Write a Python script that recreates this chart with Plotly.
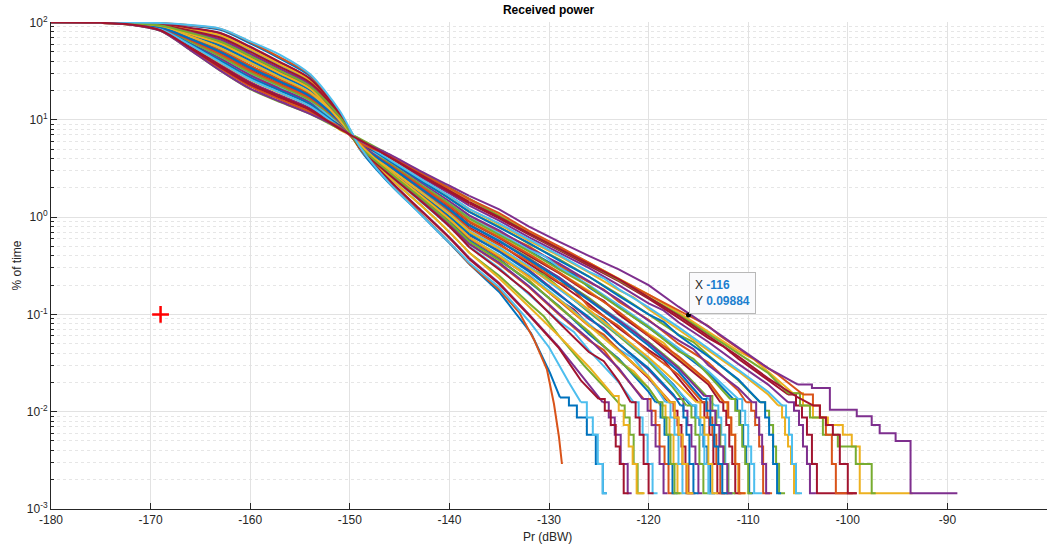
import math
import plotly.graph_objects as go

# Power levels (dBW) at which the upper part of every curve is sampled
HEAD_X = [-180, -175, -172, -169, -166, -163, -160, -157, -154, -151, -149, -146, -143, -140, -138]

# % of time above each level in HEAD_X, one row per curve
HEAD_Y = [
    [100, 99.6, 97.8, 90.6, 71.5, 54.3, 38.5, 27.1, 19.1, 9.5, 5.9, 3.15, 1.85, 1.07, 0.71],
    [100, 99.3, 96.4, 86.0, 61.0, 42.5, 29.2, 21.1, 15.0, 9.1, 5.4, 3.6, 2.28, 1.43, 1.03],
    [100, 99.7, 98.6, 93.5, 78.8, 64.2, 45.8, 31.9, 22.3, 10.9, 5.1, 2.85, 1.6, 0.88, 0.56],
    [100, 99.2, 95.8, 84.3, 56.8, 37.0, 24.5, 17.9, 13.2, 8.2, 6.3, 4.0, 2.62, 1.75, 1.31],
    [100, 99.85, 99.2, 95.8, 85.2, 73.8, 53.0, 37.0, 25.2, 11.5, 5.5, 2.55, 1.36, 0.7, 0.43],
    [100, 99.45, 97.2, 89.0, 67.4, 49.4, 33.9, 24.4, 17.4, 9.9, 5.3, 3.35, 2.02, 1.22, 0.83],
    [100, 99.65, 98.3, 92.3, 76.0, 61.0, 42.8, 30.1, 21.0, 9.7, 5.75, 2.97, 1.7, 0.95, 0.61],
    [100, 100, 99.9, 98.2, 92.3, 84.0, 61.0, 42.4, 28.2, 11.9, 5.0, 2.2, 1.1, 0.54, 0.33],
    [100, 100, 100, 98.6, 93.5, 86.0, 63.0, 43.7, 29.0, 11.2, 5.4, 2.25, 1.12, 0.55, 0.33],
    [100, 99.4, 97.1, 88.4, 65.0, 46.6, 31.8, 23.0, 16.8, 8.9, 5.95, 3.43, 2.1, 1.3, 0.92],
    [100, 99.6, 97.9, 91.2, 73.0, 57.0, 40.1, 28.3, 20.2, 10.3, 5.3, 3.08, 1.78, 1.0, 0.65],
    [100, 99.25, 96.2, 85.8, 60.2, 40.8, 27.3, 20.0, 14.5, 8.4, 6.1, 3.8, 2.42, 1.56, 1.13],
    [100, 99.8, 99.0, 95.2, 83.0, 70.8, 50.8, 35.3, 24.0, 10.3, 5.6, 2.7, 1.48, 0.8, 0.5],
    [100, 99.5, 97.5, 89.6, 69.0, 51.2, 35.5, 25.5, 18.2, 9.9, 5.35, 3.26, 1.95, 1.15, 0.78],
    [100, 99.35, 96.8, 87.4, 63.8, 45.0, 30.5, 22.1, 15.9, 9.4, 5.5, 3.55, 2.2, 1.37, 0.97],
    [100, 99.75, 98.8, 94.1, 80.4, 67.0, 47.8, 33.4, 23.0, 10.9, 5.2, 2.8, 1.56, 0.84, 0.53],
    [100, 99.2, 96.0, 85.0, 58.0, 38.5, 25.7, 18.8, 13.9, 8.9, 5.6, 3.92, 2.5, 1.64, 1.2],
    [100, 99.9, 99.5, 96.5, 87.4, 77.5, 55.6, 38.6, 26.2, 10.7, 5.5, 2.4, 1.22, 0.62, 0.38],
    [100, 99.55, 97.7, 90.8, 71.8, 54.8, 38.8, 27.4, 19.3, 10.1, 5.25, 3.12, 1.84, 1.06, 0.7],
    [100, 99.65, 98.2, 92.2, 75.5, 60.5, 42.6, 30.0, 21.1, 10.5, 5.7, 2.98, 1.71, 0.96, 0.62],
    [100, 99.4, 97.0, 88.0, 65.8, 47.5, 32.4, 23.4, 16.5, 9.0, 5.9, 3.44, 2.1, 1.28, 0.89],
    [100, 99.7, 98.5, 93.0, 78.0, 63.5, 44.9, 31.5, 21.9, 9.9, 5.65, 2.89, 1.64, 0.9, 0.58],
    [100, 99.5, 97.4, 89.8, 69.9, 52.2, 36.2, 25.9, 18.4, 9.3, 5.8, 3.23, 1.93, 1.13, 0.76],
    [100, 99.85, 99.3, 95.9, 85.5, 74.0, 53.2, 37.2, 25.4, 11.3, 5.05, 2.55, 1.36, 0.7, 0.43],
    [100, 99.3, 96.5, 86.8, 62.2, 43.0, 28.6, 20.7, 15.3, 9.3, 5.5, 3.66, 2.3, 1.45, 1.04],
    [100, 99.45, 97.3, 89.1, 67.6, 49.6, 34.1, 24.6, 17.5, 9.1, 5.9, 3.36, 2.03, 1.21, 0.84],
    [100, 99.35, 96.7, 87.2, 63.5, 44.8, 30.4, 22.0, 15.8, 8.8, 6.0, 3.56, 2.21, 1.38, 0.98],
    [100, 99.12, 95.6, 83.8, 55.8, 36.0, 23.8, 17.4, 12.8, 8.7, 5.6, 4.1, 2.7, 1.82, 1.38],
    [100, 99.6, 98.0, 91.6, 74.0, 58.0, 40.8, 28.8, 20.0, 9.6, 5.8, 3.05, 1.76, 1.01, 0.67],
    [100, 99.65, 98.25, 92.4, 75.8, 61.0, 43.0, 30.2, 21.0, 10.4, 5.2, 2.97, 1.7, 0.95, 0.61],
    [100, 99.07, 95.3, 83.0, 54.0, 34.2, 22.4, 16.5, 12.3, 7.9, 6.3, 4.22, 2.82, 1.93, 1.5],
    [100, 99.75, 98.7, 94.0, 80.0, 66.8, 47.6, 33.3, 23.1, 10.1, 5.6, 2.8, 1.56, 0.84, 0.53],
    [100, 99.35, 96.75, 87.5, 63.6, 44.9, 30.6, 22.2, 15.9, 9.35, 5.45, 3.55, 2.2, 1.37, 0.97],
    [100, 99.55, 97.8, 90.6, 71.6, 54.4, 38.5, 27.2, 19.2, 9.5, 5.75, 3.14, 1.86, 1.08, 0.72],
    [100, 99.8, 99.0, 95.0, 82.5, 70.0, 50.1, 34.9, 24.2, 11.1, 5.2, 2.7, 1.5, 0.8, 0.49],
    [100, 99.25, 96.25, 85.9, 60.0, 40.6, 27.2, 19.9, 14.5, 8.5, 6.0, 3.78, 2.41, 1.55, 1.13],
    [100, 99.4, 97.0, 88.3, 65.4, 47.0, 32.0, 23.1, 16.7, 9.5, 5.5, 3.46, 2.12, 1.3, 0.9],
    [100, 99.55, 97.75, 90.7, 71.7, 54.5, 38.6, 27.1, 19.1, 10.0, 5.4, 3.15, 1.85, 1.07, 0.71],
    [100, 99.45, 97.25, 89.0, 67.5, 49.5, 34.0, 24.5, 17.4, 9.6, 5.7, 3.35, 2.02, 1.21, 0.83],
    [100, 99.0, 95.0, 82.0, 52.0, 32.0, 20.7, 15.2, 11.5, 8.0, 6.4, 4.35, 2.95, 2.0, 1.55],
    [100, 99.2, 96.0, 85.2, 58.6, 39.0, 26.1, 19.0, 13.8, 8.3, 6.05, 3.9, 2.52, 1.65, 1.21],
    [100, 99.9, 99.5, 96.8, 88.0, 78.0, 56.4, 39.2, 26.5, 11.6, 5.15, 2.38, 1.2, 0.61, 0.37],
    [100, 99.45, 97.2, 89.2, 67.8, 49.8, 34.3, 24.7, 17.5, 9.7, 5.45, 3.34, 2.0, 1.2, 0.82],
    [100, 99.05, 95.25, 82.8, 53.5, 33.6, 22.0, 16.1, 12.0, 8.4, 5.8, 4.27, 2.87, 1.98, 1.53],
    [100, 99.65, 98.3, 92.2, 75.9, 60.8, 43.0, 30.0, 21.0, 9.8, 5.6, 2.96, 1.7, 0.95, 0.62],
    [100, 99.0, 95.0, 82.0, 52.0, 32.0, 20.9, 15.4, 11.5, 8.2, 6.1, 4.4, 3.0, 2.1, 1.65],
    [100, 99.7, 98.5, 93.3, 78.4, 63.8, 45.4, 31.8, 22.1, 10.7, 5.3, 2.87, 1.62, 0.88, 0.56],
    [100, 100, 100, 98.8, 94.0, 86.5, 64.0, 46.5, 29.5, 12.3, 5.3, 2.22, 1.1, 0.55, 0.34],
    [100, 99.1, 95.5, 83.3, 54.6, 34.8, 23.0, 16.9, 12.6, 8.05, 6.2, 4.15, 2.76, 1.87, 1.43],
]

# Continuation of each curve below -138 dBW: (Pr, % of time)
MID = [
    [(-135, 0.47), (-132, 0.31), (-129, 0.185), (-126, 0.108), (-124.5, 0.088), (-123, 0.061), (-120, 0.034), (-117.5, 0.019), (-115.8, 0.0116)],
    [(-135, 0.70), (-132, 0.50), (-129, 0.32), (-126, 0.215), (-124.5, 0.18), (-123, 0.135), (-120, 0.088), (-117, 0.05), (-114, 0.032), (-111, 0.0165), (-110.2, 0.0125)],
    [(-135, 0.36), (-132, 0.225), (-129, 0.118), (-126, 0.067), (-123, 0.033), (-121.5, 0.026), (-120, 0.0175), (-118.8, 0.0116)],
    [(-135, 0.92), (-132, 0.62), (-129, 0.43), (-126, 0.3), (-123, 0.2), (-120, 0.13), (-118.5, 0.11), (-117, 0.083), (-114, 0.052), (-111, 0.031), (-108, 0.019), (-106, 0.0125)],
    [(-135, 0.25), (-132, 0.13), (-130.5, 0.095), (-129, 0.06), (-126.5, 0.03), (-124, 0.016), (-122.8, 0.0116)],
    [(-135, 0.58), (-132, 0.37), (-129, 0.24), (-126, 0.145), (-123, 0.088), (-121.5, 0.07), (-120, 0.05), (-117, 0.028), (-114.5, 0.0155), (-113.4, 0.0116)],
    [(-135, 0.40), (-132, 0.25), (-129, 0.14), (-127.5, 0.112), (-126, 0.078), (-123, 0.043), (-120, 0.022), (-118, 0.0125)],
    [(-135, 0.17), (-131.8, 0.064), (-129.9, 0.025), (-128.9, 0.014)],
    [(-135, 0.18), (-133, 0.105), (-131.5, 0.055), (-130.2, 0.027), (-129.5, 0.012), (-129, 0.0055), (-128.7, 0.0029)],
    [(-135, 0.63), (-132, 0.42), (-129, 0.27), (-126, 0.175), (-123, 0.104), (-120, 0.063), (-118.5, 0.051), (-117, 0.035), (-114, 0.02), (-112.5, 0.0125)],
    [(-135, 0.45), (-132, 0.285), (-129, 0.162), (-126, 0.09), (-124.5, 0.072), (-123, 0.05), (-120, 0.027), (-117.2, 0.0135)],
    [(-135, 0.8), (-132, 0.53), (-129, 0.37), (-126, 0.245), (-123, 0.16), (-120, 0.1), (-117, 0.062), (-115.5, 0.052), (-114, 0.038), (-111, 0.021), (-108.8, 0.0125)],
    [(-135, 0.3), (-132, 0.16), (-129, 0.085), (-127.5, 0.066), (-126, 0.043), (-123, 0.02), (-121.5, 0.0125)],
    [(-135, 0.53), (-132, 0.33), (-129, 0.21), (-126, 0.128), (-123, 0.072), (-120, 0.043), (-118.5, 0.034), (-117, 0.022), (-115, 0.0125)],
    [(-135, 0.67), (-132, 0.45), (-129, 0.3), (-127.5, 0.255), (-126, 0.19), (-123, 0.12), (-120, 0.073), (-117, 0.043), (-114, 0.025), (-111.5, 0.0135)],
    [(-135, 0.33), (-132, 0.19), (-129, 0.1), (-126, 0.054), (-124.5, 0.043), (-123, 0.027), (-120.5, 0.0135)],
    [(-135, 0.84), (-132, 0.57), (-129, 0.4), (-126, 0.27), (-123, 0.178), (-121.5, 0.15), (-120, 0.113), (-117, 0.07), (-114, 0.043), (-111, 0.026), (-108, 0.015), (-107, 0.0116)],
    [(-135, 0.21), (-132, 0.1), (-129, 0.046), (-126.5, 0.022), (-124.6, 0.0125)],
    [(-135, 0.48), (-132, 0.3), (-130.5, 0.255), (-129, 0.19), (-126, 0.105), (-123, 0.06), (-120, 0.033), (-117.6, 0.018), (-116.2, 0.0116)],
    [(-135, 0.41), (-132, 0.255), (-129, 0.145), (-126, 0.08), (-123, 0.044), (-121.5, 0.035), (-120, 0.023), (-118.3, 0.0125)],
    [(-135, 0.61), (-132, 0.4), (-129, 0.265), (-126, 0.165), (-124.5, 0.138), (-123, 0.1), (-120, 0.06), (-117, 0.034), (-114, 0.019), (-112.8, 0.0125)],
    [(-135, 0.37), (-132, 0.215), (-129, 0.122), (-126, 0.063), (-123, 0.035), (-120, 0.016), (-119.3, 0.0125)],
    [(-135, 0.52), (-132, 0.35), (-129, 0.215), (-127.5, 0.18), (-126, 0.12), (-123, 0.076), (-120, 0.041), (-117, 0.024), (-114.6, 0.0125)],
    [(-135, 0.235), (-132, 0.12), (-129, 0.06), (-126, 0.029), (-123.5, 0.0145)],
    [(-135, 0.73), (-132, 0.48), (-129, 0.335), (-126, 0.22), (-123, 0.142), (-120, 0.086), (-117, 0.054), (-115.5, 0.044), (-114, 0.03), (-111, 0.0175), (-109.6, 0.0125)],
    [(-135, 0.57), (-132, 0.38), (-129, 0.235), (-126, 0.148), (-123, 0.086), (-120, 0.052), (-117, 0.029), (-114.2, 0.0145)],
    [(-135, 0.68), (-132, 0.46), (-130.5, 0.4), (-129, 0.305), (-126, 0.2), (-123, 0.125), (-120, 0.076), (-117, 0.045), (-114, 0.026), (-111, 0.0135)],
    [(-135, 0.97), (-132, 0.66), (-129, 0.46), (-126, 0.32), (-123, 0.22), (-120, 0.145), (-117, 0.092), (-114, 0.057), (-112.5, 0.047), (-111, 0.035), (-108, 0.021), (-106, 0.015)],
    [(-135, 0.44), (-132, 0.275), (-129, 0.158), (-126, 0.094), (-123, 0.05), (-120, 0.028), (-117.5, 0.015), (-116.8, 0.0116)],
    [(-135, 0.39), (-132, 0.245), (-129, 0.138), (-126, 0.076), (-124.5, 0.062), (-123, 0.043), (-120, 0.0225), (-117.8, 0.0125)],
    [(-135, 1.05), (-132, 0.7), (-129, 0.48), (-126, 0.34), (-123, 0.235), (-120, 0.16), (-117, 0.105), (-114, 0.066), (-111, 0.042), (-109.5, 0.035), (-108, 0.026), (-105.5, 0.0155)],
    [(-135, 0.34), (-132, 0.195), (-129, 0.102), (-126, 0.056), (-123, 0.028), (-120.6, 0.0135)],
    [(-135, 0.66), (-132, 0.445), (-129, 0.29), (-126, 0.195), (-123, 0.118), (-120, 0.074), (-117, 0.042), (-115.5, 0.035), (-114, 0.024), (-111.8, 0.0135)],
    [(-135, 0.49), (-132, 0.31), (-129, 0.182), (-126, 0.11), (-123, 0.062), (-120, 0.035), (-117.4, 0.018), (-115.6, 0.0116)],
    [(-135, 0.29), (-132, 0.165), (-129, 0.083), (-126, 0.041), (-124.5, 0.033), (-123, 0.0205), (-121.8, 0.0125)],
    [(-135, 0.78), (-132, 0.54), (-129, 0.36), (-126, 0.245), (-123, 0.155), (-120, 0.1), (-118.5, 0.084), (-117, 0.061), (-114, 0.037), (-111, 0.0215), (-108.8, 0.0125)],
    [(-135, 0.62), (-132, 0.415), (-129, 0.27), (-126, 0.17), (-123, 0.106), (-120, 0.061), (-117, 0.037), (-114, 0.0205), (-112.4, 0.0125)],
    [(-135, 0.47), (-132, 0.3), (-129, 0.19), (-126, 0.112), (-123, 0.064), (-120, 0.036), (-117, 0.019), (-115.2, 0.0125)],
    [(-135, 0.56), (-132, 0.37), (-129, 0.24), (-126, 0.142), (-123, 0.087), (-120, 0.051), (-117, 0.028), (-114.4, 0.0145)],
    [(-135, 1.02), (-132, 0.68), (-129, 0.47), (-126, 0.33), (-123, 0.225), (-120, 0.15), (-117, 0.1), (-114, 0.063), (-111, 0.04), (-108, 0.025), (-106, 0.0155)],
    [(-135, 0.86), (-132, 0.59), (-129, 0.41), (-126, 0.275), (-124.5, 0.235), (-123, 0.182), (-120, 0.118), (-117, 0.074), (-114, 0.045), (-111, 0.027), (-108, 0.016), (-106.6, 0.0116)],
    [(-135, 0.205), (-132, 0.098), (-129, 0.045), (-126.8, 0.021), (-125, 0.0135)],
    [(-135, 0.57), (-132, 0.365), (-129, 0.23), (-126, 0.14), (-123, 0.083), (-120, 0.048), (-117, 0.026), (-114.6, 0.0135)],
    [(-135, 1.1), (-132, 0.72), (-129, 0.5), (-126, 0.34), (-123, 0.23), (-120, 0.16), (-118, 0.125), (-116, 0.09884), (-114, 0.076), (-112.8, 0.06), (-110, 0.038), (-107, 0.024), (-104.5, 0.015)],
    [(-135, 0.4), (-132, 0.24), (-129, 0.142), (-126, 0.077), (-123, 0.042), (-120, 0.023), (-117.9, 0.0125)],
    [(-135, 1.2), (-132, 0.8), (-129, 0.56), (-126, 0.4), (-123, 0.29), (-120, 0.2), (-117, 0.12), (-114, 0.075), (-111, 0.046), (-108, 0.028), (-105, 0.019)],
    [(-135, 0.36), (-132, 0.22), (-129, 0.12), (-126, 0.066), (-123, 0.034), (-120, 0.0175), (-119, 0.0125)],
    [(-135, 0.19), (-132, 0.085), (-130, 0.046), (-128, 0.02), (-126.8, 0.0125)],
    [(-135, 1.0), (-132, 0.68), (-129, 0.47), (-126, 0.33), (-123, 0.23), (-120, 0.15), (-117, 0.097), (-114, 0.06), (-111, 0.037), (-108, 0.022), (-105, 0.014), (-103.5, 0.0116)],
]

# Sample-count staircase at the bottom of each curve: (Pr, % of time)
STEPS = [
    [(-115.8, 0.0116), (-115.3, 0.0087), (-114.9, 0.0073), (-114.5, 0.0044), (-114.1, 0.0029), (-113.8, 0.00145), (-113.3, 0.00145)],
    [(-110.2, 0.0125), (-109.7, 0.0102), (-109.3, 0.0073), (-108.9, 0.0044), (-108.5, 0.00145), (-107.6, 0.00145)],
    [(-118.8, 0.0116), (-118.3, 0.0087), (-117.9, 0.0058), (-117.5, 0.0029), (-117.1, 0.00145), (-116.6, 0.00145)],
    [(-106, 0.0125), (-105.4, 0.0102), (-104.9, 0.0073), (-104.5, 0.0044), (-104.1, 0.0029), (-103.8, 0.00145), (-103.2, 0.00145)],
    [(-122.8, 0.0116), (-122.4, 0.0087), (-121.9, 0.0058), (-121.5, 0.0029), (-121.1, 0.00145), (-120.5, 0.00145)],
    [(-113.4, 0.0116), (-113, 0.0087), (-112.7, 0.0058), (-112.3, 0.0029), (-112, 0.00145), (-111.5, 0.00145)],
    [(-118, 0.0125), (-117.5, 0.0102), (-117.1, 0.0073), (-116.7, 0.0044), (-116.3, 0.0029), (-116, 0.00145), (-115.3, 0.00145)],
    [(-128.9, 0.014), (-128, 0.0116), (-127.2, 0.0087), (-126.2, 0.0058), (-125.3, 0.0029), (-124.6, 0.00145), (-124.2, 0.00145)],
    [],
    [(-112.5, 0.0125), (-112.1, 0.0087), (-111.7, 0.0058), (-111.3, 0.0029), (-111, 0.00145), (-110.2, 0.00145)],
    [(-117.2, 0.0135), (-116.5, 0.0102), (-116.1, 0.0073), (-115.7, 0.0044), (-115.3, 0.0029), (-115, 0.00145), (-114.6, 0.00145)],
    [(-108.8, 0.0125), (-108.3, 0.0102), (-107.9, 0.0073), (-107.5, 0.0044), (-107.2, 0.0029), (-106.9, 0.00145), (-106.3, 0.00145)],
    [(-121.5, 0.0125), (-121, 0.0087), (-120.6, 0.0058), (-120.1, 0.0029), (-119.6, 0.00145), (-119.1, 0.00145)],
    [(-115, 0.0125), (-114.4, 0.0087), (-113.9, 0.0058), (-113.5, 0.0029), (-113.1, 0.00145), (-112.3, 0.00145)],
    [(-111.5, 0.0135), (-111.1, 0.0102), (-110.8, 0.0073), (-110.5, 0.0044), (-110.2, 0.0029), (-109.9, 0.00145), (-109.5, 0.00145)],
    [(-120.5, 0.0135), (-119.8, 0.0102), (-119.3, 0.0073), (-118.9, 0.0044), (-118.4, 0.0029), (-118, 0.00145), (-117.4, 0.00145)],
    [(-107, 0.0116), (-106.6, 0.0087), (-106.3, 0.0058), (-106, 0.0044), (-105.7, 0.0029), (-105.4, 0.00145), (-104.8, 0.00145)],
    [(-124.6, 0.0125), (-124, 0.0087), (-123.4, 0.0058), (-122.8, 0.0029), (-122.1, 0.00145), (-121.7, 0.00145)],
    [(-116.2, 0.0116), (-115.7, 0.0087), (-115.3, 0.0058), (-114.9, 0.0029), (-114.5, 0.00145), (-113.8, 0.00145)],
    [(-118.3, 0.0125), (-117.8, 0.0087), (-117.4, 0.0058), (-117, 0.0029), (-116.6, 0.00145), (-116, 0.00145)],
    [(-112.8, 0.0125), (-112.5, 0.0102), (-112.2, 0.0073), (-111.9, 0.0044), (-111.6, 0.0029), (-111.3, 0.00145), (-110.7, 0.00145)],
    [(-119.3, 0.0125), (-118.8, 0.0087), (-118.4, 0.0058), (-118, 0.0029), (-117.6, 0.00145), (-117.1, 0.00145)],
    [(-114.6, 0.0125), (-114.1, 0.0087), (-113.6, 0.0058), (-113.2, 0.0029), (-112.8, 0.00145), (-112, 0.00145)],
    [(-123.5, 0.0145), (-123, 0.0102), (-122.5, 0.0073), (-122, 0.0044), (-121.6, 0.0029), (-121.2, 0.00145), (-120.4, 0.00145)],
    [(-109.6, 0.0125), (-109.2, 0.0087), (-108.9, 0.0058), (-108.6, 0.0029), (-108.2, 0.00145), (-107.8, 0.00145)],
    [(-114.2, 0.0145), (-113.6, 0.0102), (-113.2, 0.0073), (-112.8, 0.0044), (-112.4, 0.0029), (-112, 0.00145), (-111.3, 0.00145)],
    [(-111, 0.0135), (-110.6, 0.0102), (-110.3, 0.0073), (-110, 0.0044), (-109.7, 0.0029), (-109.4, 0.00145), (-108.6, 0.00145)],
    [(-106, 0.015), (-105.2, 0.0116), (-104.6, 0.0087), (-104.1, 0.0058), (-103.6, 0.0029), (-103.1, 0.00145), (-99.1, 0.00145)],
    [(-116.8, 0.0116), (-116.5, 0.0087), (-116.2, 0.0058), (-115.9, 0.0029), (-115.5, 0.00145), (-115, 0.00145)],
    [(-117.8, 0.0125), (-117.4, 0.0087), (-117, 0.0058), (-116.6, 0.0029), (-116.2, 0.00145), (-115.6, 0.00145)],
    [(-105.5, 0.0155), (-104.5, 0.0116), (-103.5, 0.0087), (-102, 0.0073), (-100.5, 0.0058), (-99.6, 0.0044), (-98.8, 0.00145), (-93.5, 0.00145)],
    [(-120.6, 0.0135), (-120.1, 0.0102), (-119.7, 0.0073), (-119.3, 0.0044), (-118.9, 0.0029), (-118.5, 0.00145), (-118.1, 0.00145)],
    [(-111.8, 0.0135), (-111.3, 0.0102), (-110.9, 0.0073), (-110.6, 0.0044), (-110.3, 0.0029), (-110, 0.00145), (-109.6, 0.00145)],
    [(-115.6, 0.0116), (-115.2, 0.0087), (-114.8, 0.0058), (-114.4, 0.0029), (-114, 0.00145), (-113.3, 0.00145)],
    [(-121.8, 0.0125), (-121.3, 0.0087), (-120.9, 0.0058), (-120.5, 0.0029), (-120, 0.00145), (-119.5, 0.00145)],
    [(-108.8, 0.0125), (-108.3, 0.0087), (-107.9, 0.0058), (-107.5, 0.0029), (-107.1, 0.00145), (-106.7, 0.00145)],
    [(-112.4, 0.0125), (-112, 0.0087), (-111.7, 0.0058), (-111.3, 0.0029), (-110.9, 0.00145), (-110.3, 0.00145)],
    [(-115.2, 0.0125), (-114.8, 0.0087), (-114.4, 0.0058), (-114, 0.0029), (-113.6, 0.00145), (-113, 0.00145)],
    [(-114.4, 0.0145), (-113.8, 0.0102), (-113.3, 0.0073), (-112.9, 0.0044), (-112.5, 0.0029), (-112.1, 0.00145), (-111.6, 0.00145)],
    [(-106, 0.0155), (-104.8, 0.0116), (-103.8, 0.0087), (-102.5, 0.0058), (-101, 0.0044), (-99.2, 0.0029), (-97.6, 0.00145), (-97.2, 0.00145)],
    [(-106.6, 0.0116), (-106.2, 0.0087), (-105.9, 0.0058), (-105.6, 0.0029), (-105.2, 0.00145), (-104.6, 0.00145)],
    [(-125, 0.0135), (-124.4, 0.0102), (-123.8, 0.0073), (-123.3, 0.0044), (-122.9, 0.0029), (-122.5, 0.00145), (-122, 0.00145)],
    [(-114.6, 0.0135), (-114.2, 0.0102), (-113.8, 0.0073), (-113.4, 0.0044), (-113, 0.0029), (-112.6, 0.00145), (-112.1, 0.00145)],
    [(-104.5, 0.015), (-103.5, 0.0116), (-102.8, 0.0087), (-102.2, 0.0058), (-101.6, 0.0029), (-101.2, 0.00145), (-99.5, 0.00145)],
    [(-117.9, 0.0125), (-117.4, 0.0087), (-117, 0.0058), (-116.6, 0.0029), (-116.1, 0.00145), (-115.5, 0.00145)],
    [(-105, 0.019), (-103.6, 0.0175), (-101.8, 0.0105), (-99.1, 0.009), (-97.6, 0.0073), (-96.8, 0.006), (-95.2, 0.005), (-93.7, 0.00145), (-89, 0.00145)],
    [(-119, 0.0125), (-118.6, 0.0087), (-118.2, 0.0058), (-117.8, 0.0029), (-117.4, 0.00145), (-116.8, 0.00145)],
    [(-126.8, 0.0125), (-126.2, 0.0087), (-125.6, 0.0058), (-125.1, 0.0029), (-124.6, 0.00145), (-124.2, 0.00145)],
    [(-103.5, 0.0116), (-102.8, 0.0087), (-102.2, 0.0073), (-101.5, 0.0058), (-100.8, 0.0029), (-100, 0.00145), (-99.1, 0.00145)],
]

# Data tip and reference marker
TIP_X = -116
TIP_Y = 0.09884
REF_X = [-169]
REF_Y = [0.1]

# Axis ticks
X_TICKS = [-180, -170, -160, -150, -140, -130, -120, -110, -100, -90, -80]
Y_TICKS = [1e-3, 1e-2, 1e-1, 1, 10, 100]
Y_TICK_TEXT = ["10<sup>-3</sup>", "10<sup>-2</sup>", "10<sup>-1</sup>",
               "10<sup>0</sup>", "10<sup>1</sup>", "10<sup>2</sup>"]

# MATLAB default line colour order
COLOR_ORDER = ["#0072BD", "#D95319", "#EDB120", "#7E2F8E", "#77AC30", "#4DBEEE", "#A2142F"]

FONT = "Liberation Sans, Arial, sans-serif"
AX_COLOR = "#262626"

fig = go.Figure()

for i, head in enumerate(HEAD_Y):
    color = COLOR_ORDER[i % len(COLOR_ORDER)]
    # smooth upper part
    fig.add_trace(go.Scatter(
        x=HEAD_X, y=head, mode="lines",
        line=dict(color=color, width=2, shape="spline", smoothing=0.8),
        hoverinfo="skip", showlegend=False,
    ))
    # middle part, joined to the last head sample
    fig.add_trace(go.Scatter(
        x=[HEAD_X[-1]] + [p[0] for p in MID[i]],
        y=[head[-1]] + [p[1] for p in MID[i]],
        mode="lines", line=dict(color=color, width=2),
        hoverinfo="skip", showlegend=False,
    ))
    # staircase tail
    if STEPS[i]:
        fig.add_trace(go.Scatter(
            x=[p[0] for p in STEPS[i]], y=[p[1] for p in STEPS[i]], mode="lines",
            line=dict(color=color, width=2, shape="hv"),
            hoverinfo="skip", showlegend=False,
        ))

# red reference cross
fig.add_trace(go.Scatter(
    x=REF_X, y=REF_Y, mode="markers",
    marker=dict(symbol="cross-thin", size=12, color="#FF0000",
                line=dict(color="#FF0000", width=2.5)),
    hoverinfo="skip", showlegend=False,
))

# data tip anchor point
fig.add_trace(go.Scatter(
    x=[TIP_X], y=[TIP_Y], mode="markers",
    marker=dict(symbol="circle", size=5, color="#000000"),
    hoverinfo="skip", showlegend=False,
))

minor_vals = [m * 10 ** e for e in range(-3, 2) for m in range(2, 10)]

fig.update_layout(
    width=1054, height=546,
    margin=dict(l=51, r=7, t=22, b=37),
    paper_bgcolor="white", plot_bgcolor="white",
    font=dict(family=FONT, size=12, color=AX_COLOR),
    showlegend=False,
    hovermode=False,
    title=dict(text="<b>Received power</b>", x=0.5205, xanchor="center",
               y=1 - 10 / 546, yanchor="middle",
               font=dict(family=FONT, size=12, color="#000000")),
    xaxis=dict(
        range=[-180, -80], tickvals=X_TICKS, ticktext=[str(v) for v in X_TICKS],
        ticks="inside", ticklen=6, tickcolor=AX_COLOR, tickwidth=1,
        showline=True, linecolor=AX_COLOR, linewidth=1, mirror=False,
        showgrid=True, gridcolor="#E2E2E2", gridwidth=1, zeroline=False,
        tickfont=dict(family=FONT, size=12, color=AX_COLOR),
    ),
    yaxis=dict(
        type="log", range=[-3, 2.005], tickvals=Y_TICKS, ticktext=Y_TICK_TEXT,
        ticks="inside", ticklen=6, tickcolor=AX_COLOR, tickwidth=1,
        showline=True, linecolor=AX_COLOR, linewidth=1, mirror=False,
        showgrid=True, gridcolor="#E2E2E2", gridwidth=1, zeroline=False,
        tickfont=dict(family=FONT, size=12, color=AX_COLOR),
        minor=dict(tickvals=minor_vals, ticks="inside", ticklen=3,
                   tickcolor=AX_COLOR, showgrid=True,
                   gridcolor="#E6E6E6", griddash="dot", gridwidth=1),
    ),
)

tip_blue = "#1C7FCF"
fig.add_annotation(
    x=TIP_X, y=math.log10(TIP_Y), xref="x", yref="y",
    text=(f"X <b><span style='color:{tip_blue}'>{TIP_X}</span></b><br>"
          f"Y <b><span style='color:{tip_blue}'>{TIP_Y:.4g}</span></b>"),
    showarrow=False, xanchor="left", yanchor="bottom", align="left",
    xshift=1, yshift=1,
    bgcolor="#FAFAFC", bordercolor="#B8B8B8", borderwidth=1, borderpad=5,
    font=dict(family=FONT, size=12, color=AX_COLOR),
)

fig.add_annotation(
    text="Pr (dBW)", xref="paper", yref="paper", x=0.4985, y=-28 / 487,
    xanchor="center", yanchor="middle", showarrow=False,
    font=dict(family=FONT, size=12, color=AX_COLOR),
)
fig.add_annotation(
    text="% of time", xref="paper", yref="paper", x=-35 / 996, y=0.5,
    xanchor="center", yanchor="middle", showarrow=False, textangle=-90,
    font=dict(family=FONT, size=12, color=AX_COLOR),
)

fig.write_html("out.html")
